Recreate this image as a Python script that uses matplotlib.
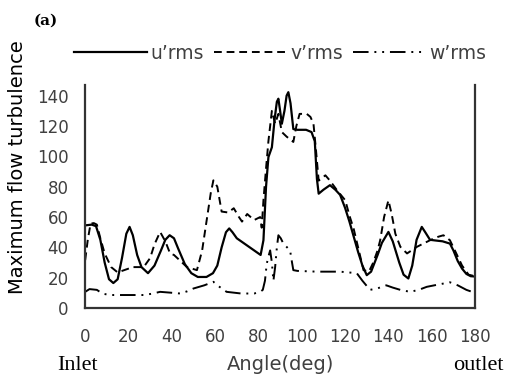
import matplotlib

matplotlib.use("Agg")

import matplotlib.pyplot as plt

# angle (deg) / value pairs
u_angle = [0, 3, 5, 7, 9, 11, 13, 15, 17, 19, 20.5, 22, 24, 26, 29, 32, 35, 37, 39, 41, 43, 46, 49, 52,
           56, 59, 61, 63, 65, 66.5, 68, 70, 73, 76, 79, 81, 82.3, 83.5, 84.6, 86.2, 87.5, 88.5, 89.2,
           90, 90.8, 92, 93, 93.8, 94.8, 96.1, 98, 102, 104.5, 106, 107, 107.8, 110, 113, 115.5, 117.7,
           120, 122, 124, 126, 128, 130, 132, 135, 137, 140, 142, 145, 147, 149.2, 151, 153, 155.4,
           157, 159.2, 162, 165, 168.4, 170, 172, 174, 176, 178, 180]
u_val = [54.5, 55, 54, 45, 30, 19, 16.5, 19, 33, 49, 53.5, 48, 35, 27, 23, 28, 38, 45, 48, 46, 39, 29,
         23, 20.5, 20.5, 23, 28, 40, 50, 52.5, 50, 46, 43, 40, 37, 35, 44.7, 80, 99.5, 106, 125, 136,
         138, 130, 121.5, 130, 140, 142.3, 135, 118, 117.5, 117.5, 116, 110, 85, 75.4, 78, 81, 78,
         74.6, 66, 57, 47, 37, 28, 21.7, 24, 35, 43, 50.2, 44, 30, 22, 19.5, 28, 45, 53.5, 50, 45,
         44.5, 44, 42.5, 38, 31, 26, 22.5, 21, 20.8]

v_angle = [0, 1.2, 2.5, 4, 5.4, 7, 9, 12, 15, 18, 22, 27, 30, 32, 34.6, 37, 39.2, 41, 44, 47, 51.6,
           54, 56, 58, 59.2, 61, 63, 66, 68.6, 71, 72.4, 74.8, 78, 80.8, 81.5, 82.3, 83.5, 84.6,
           86.2, 87.7, 89.2, 90.8, 93, 96.1, 97.5, 99, 102.3, 104, 105.4, 106.5, 107.8, 110.9, 113,
           116.3, 120.1, 122, 124, 126, 128.5, 131, 133, 135, 136.2, 138, 140, 141.5, 143.2, 145.5,
           148.6, 153.2, 159.2, 163, 165.4, 168.4, 171, 174, 177, 180]
v_val = [31.6, 45, 55.7, 56, 55, 46, 36, 27, 23.5, 25, 27, 27, 33, 42, 50.2, 44, 36, 35, 31, 27, 25,
         38, 57, 76, 84.2, 80, 63.6, 63, 65.8, 60, 57, 62, 58, 60, 53, 71, 92, 110,
         130, 121.5, 128, 116, 113, 109.5, 120, 128, 128, 126, 121.5, 105, 84, 87.5, 84,
         77.6, 71, 61, 52, 40, 25, 24, 30, 38, 44.7, 60, 71, 62, 49, 40.4,
         36, 40.4, 44.7, 47, 48, 44.7, 37, 28, 22, 21]

w_angle = [0, 2, 5.4, 8, 11.5, 16, 22, 27, 31, 34.6, 39, 43.8, 47, 50, 55, 59.2, 62, 65.3, 72, 78,
           80.8, 82, 83, 83.8, 84.6, 85.4, 86.2, 86.9, 87.7, 88.5, 89.2, 90.3, 91.5, 94.6, 95.5,
           96.1, 98, 107, 117.7, 125.4, 128, 131.5, 135, 139, 142, 145.5, 150, 154, 157.7, 163,
           168.4, 172, 176, 180]
w_val = [10.7, 12.5, 12, 9.5, 8.6, 8.6, 8.6, 8.6, 9.5, 10.7, 10.2, 9.6, 11, 12.9, 15, 17.3, 14, 10.7,
         9.6, 9.6, 10.7, 12, 18, 29, 34, 38, 30, 18, 27, 40, 48, 46, 42.5, 38, 30, 25, 24.5, 24,
         24, 23, 18, 12, 13, 15, 13.5, 12, 10.7, 12, 14, 15.5, 17, 15, 12, 10]

x_ticks = list(range(0, 181, 20))
y_ticks = list(range(0, 141, 20))

TXT = "#404040"

fig = plt.figure(figsize=(5.07, 3.78), dpi=100)
ax = fig.add_axes([0.168, 0.185, 0.769, 0.59])

ax.plot(u_angle, u_val, color="black", lw=1.6, label="u\u2019rms")
ax.plot(v_angle, v_val, color="black", lw=1.4, linestyle=(0, (4, 2.5)), label="v\u2019rms")
ax.plot(w_angle, w_val, color="black", lw=1.4, linestyle=(0, (8, 3, 1, 3, 1, 3)), label="w\u2019rms")

ax.set_xlim(0, 180)
ax.set_ylim(0, 147)
ax.set_xticks(x_ticks)
ax.set_yticks(y_ticks)
ax.tick_params(length=0, labelsize=12, colors=TXT)
ax.tick_params(axis="x", pad=14)
ax.tick_params(axis="y", pad=12)
for s in ("left", "bottom", "right"):
    ax.spines[s].set_linewidth(1.6)
    ax.spines[s].set_color("#333333")
ax.spines["top"].set_visible(False)

ax.set_ylabel("Maximum flow turbulence", fontsize=14, color="black")
ax.yaxis.set_label_coords(-0.15, 0.63)

ax.legend(loc="lower center", bbox_to_anchor=(0.5, 1.1), ncol=3, frameon=False, fontsize=13.5,
          handlelength=3.9, columnspacing=0.5, handletextpad=0.2, labelcolor=TXT,
          borderaxespad=0, borderpad=0)

fig.text(0.066, 0.935, "(a)", fontsize=11, fontweight="bold", family="DejaVu Serif")
fig.text(0.112, 0.02, "Inlet", fontsize=16, family="Liberation Serif")
fig.text(0.553, 0.02, "Angle(deg)", fontsize=14, ha="center", color=TXT)
fig.text(0.993, 0.02, "outlet", fontsize=16, ha="right", family="Liberation Serif")

fig.savefig("out.png", dpi=100)
